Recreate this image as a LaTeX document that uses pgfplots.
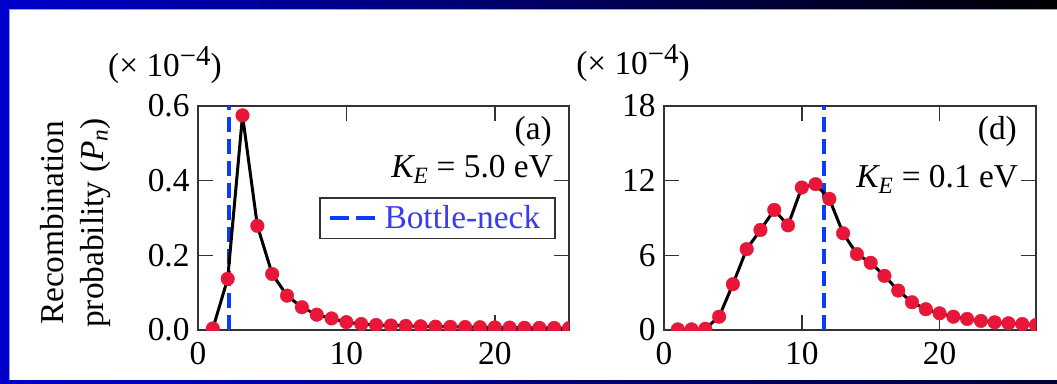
\documentclass[border=0pt]{standalone}
\usepackage{fontspec}
\setmainfont{Liberation Serif}
\usepackage{pgfplots}
\pgfplotsset{compat=1.18}
\usepackage{pgfplotstable}

\definecolor{dotred}{HTML}{E8173A}
\definecolor{neckblue}{HTML}{0A3CFF}
\definecolor{legblue}{HTML}{3A3AF0}
\definecolor{slideblue}{HTML}{0000CC}
\definecolor{slidenavy}{HTML}{000033}
\definecolor{axisgray}{HTML}{333333}

\newcommand\bigfont{\fontsize{33.5}{40}\selectfont}

% recombination probability P_n (units of 1e-4), K_E = 5.0 eV
\pgfplotstableread{
n  P
1  0.004
2  0.137
3  0.575
4  0.279
5  0.150
6  0.092
7  0.061
8  0.041
9  0.031
10 0.021
11 0.016
12 0.0135
13 0.012
14 0.011
15 0.010
16 0.009
17 0.0085
18 0.008
19 0.0075
20 0.007
21 0.0065
22 0.006
23 0.0058
24 0.0055
25 0.005
}\tabA

% recombination probability P_n (units of 1e-4), K_E = 0.1 eV
\pgfplotstableread{
n  P
1  0.05
2  0.05
3  0.10
4  1.07
5  3.68
6  6.50
7  8.04
8  9.65
9  8.41
10 11.45
11 11.72
12 10.54
13 7.77
14 6.10
15 5.40
16 4.35
17 3.17
18 2.23
19 1.67
20 1.34
21 1.07
22 0.89
23 0.73
24 0.62
25 0.54
26 0.48
27 0.40
}\tabD

\pgfplotsset{
  panel/.style={
    scale only axis,
    height=224bp,
    xmin=0, ymin=0,
    axis line style={axisgray, line width=1.6bp},
    every tick/.style={axisgray, line width=1.6bp},
    major tick length=15bp,
    tick align=inside,
    xtick pos=both, ytick pos=both,
    xticklabel pos=lower, yticklabel pos=left,
    xtick={0,10,20},
    tick label style={font=\bigfont},
    xticklabel style={yshift=-9bp},
    yticklabel style={xshift=-5bp},
    /pgf/number format/assume math mode=true,
    clip marker paths=true,
    every axis plot/.append style={line join=round},
  },
  datacurve/.style={black, line width=3bp, mark=*, mark size=6.8bp,
    mark options={draw=dotred, fill=dotred, line width=0.4bp}},
  neck/.style={neckblue, line width=4.5bp, dash pattern=on 15bp off 7bp},
}

\begin{document}
\begin{tikzpicture}[x=1bp, y=1bp]
\useasboundingbox (0,0) rectangle (1057,383);
% slide frame
\fill[white] (0,0) rectangle (1057,383);
\shade[left color=slideblue, right color=black] (0,374) rectangle (1057,383);
\fill[slideblue] (0,0) rectangle (9,383);
\draw[color=blue!40!white, line width=1.2bp] (9.6,3) -- (9.6,373.4) -- (1057,373.4);
\shade[left color=slideblue, right color=slidenavy] (0,0) rectangle (1057,3);

% y-axis title
\node[rotate=90, font=\bigfont] at (52,160) {Recombination};
\node[rotate=90, font=\bigfont] at (96,160) {probability ({\itshape P}\textsubscript{\itshape n})};

% (a) K_E = 5.0 eV
\begin{axis}[panel, at={(198bp,53bp)}, anchor=south west,
    width=371bp, xmax=25, ymax=0.6,
    ytick={0,0.2,0.4,0.6},
    yticklabel style={/pgf/number format/.cd, fixed, fixed zerofill, precision=1},
    legend style={at={(0.965,0.594)}, anchor=north east,
      draw=axisgray, line width=1.6bp, font=\bigfont\color{legblue},
      inner xsep=8bp, inner ysep=3bp,
      nodes={inner xsep=7bp, inner ysep=5bp}},
    legend image code/.code={\draw[neckblue, line width=4.5bp, dash pattern=on 19bp off 7bp] (0bp,0bp) -- (45bp,0bp);},
  ]
  \addplot[neck] coordinates {(2.09,0) (2.09,0.6)};
  \addlegendentry{Bottle-neck}
  \addplot[datacurve, forget plot] table[x=n, y=P] {\tabA};
  \node[anchor=north east, font=\bigfont, inner sep=0pt] at (rel axis cs:0.954,0.955) {(a)};
  \node[anchor=base east, font=\bigfont, inner sep=0pt] at (rel axis cs:0.957,0.683) {{\itshape K}\textsubscript{\itshape E} = 5.0 eV};
\end{axis}
\node[font=\bigfont] at (165,318) {(× 10\raisebox{0.33em}{\fontsize{29}{30}\selectfont −4})};

% (d) K_E = 0.1 eV
\begin{axis}[panel, at={(664bp,53bp)}, anchor=south west,
    width=372bp, xmax=27, ymax=18,
    ytick={0,6,12,18},
  ]
  \addplot[neck] coordinates {(11.6,0) (11.6,18)};
  \addplot[datacurve] table[x=n, y=P] {\tabD};
  \node[anchor=north east, font=\bigfont, inner sep=0pt] at (rel axis cs:0.949,0.955) {(d)};
  \node[anchor=base east, font=\bigfont, inner sep=0pt] at (rel axis cs:0.952,0.638) {{\itshape K}\textsubscript{\itshape E} = 0.1 eV};
\end{axis}
\node[font=\bigfont] at (633,320) {(× 10\raisebox{0.33em}{\fontsize{29}{30}\selectfont −4})};
\end{tikzpicture}
\end{document}
